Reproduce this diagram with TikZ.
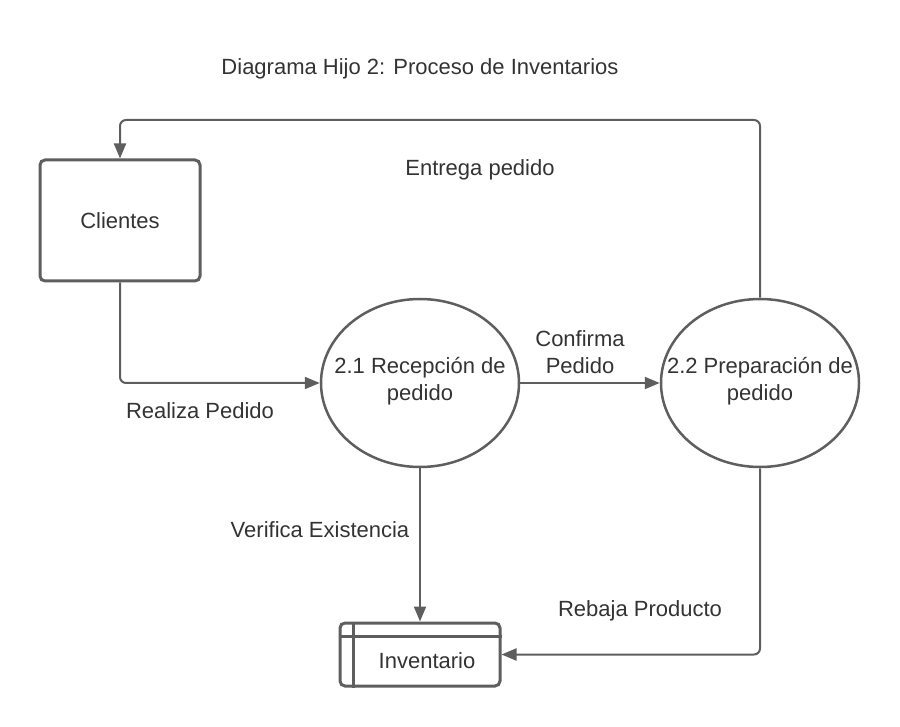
\documentclass[tikz,border=0pt]{standalone}
\usepackage{fontspec}
\setmainfont{Liberation Sans}
\usetikzlibrary{arrows.meta,shapes.geometric}
\definecolor{lc}{HTML}{5E5E5E}
\definecolor{tc}{HTML}{333333}
\begin{document}
\begin{tikzpicture}[x=1pt,y=-1pt,
  lbl/.style={text=tc,font=\fontsize{22}{27}\selectfont,align=center,inner sep=0},
  conn/.style={draw=lc,line width=2pt,rounded corners=6pt,-{Triangle[length=15pt,width=12pt]}},
  proc/.style={ellipse,draw=lc,line width=2.5pt,minimum width=198pt,minimum height=168pt,inner sep=0},
  entity/.style={draw=lc,line width=3pt,rounded corners=5pt,minimum width=160pt,minimum height=121pt,inner sep=0}
]
\useasboundingbox (0,0) rectangle (900,727);
\node[lbl] (title) at (420,69) {Diagrama Hijo 2: Proceso de Inventarios};
\node[entity,lbl] (cli) at (120,220.5) {Clientes};
\node[proc] (p1) at (420,383) {};
\node[proc] (p2) at (760,383) {};
\node[lbl] (p1t) at (420,381) {2.1 Recepción de\\pedido};
\node[lbl] (p2t) at (760,381) {2.2 Preparación de\\pedido};
\node[draw=lc,line width=3pt,rounded corners=5pt,minimum width=160pt,minimum height=63pt,inner sep=0] (inv) at (420,654.5) {};
\draw[lc,line width=2.5pt] ([xshift=15pt]inv.north west) -- ([xshift=15pt]inv.south west);
\draw[lc,line width=2.5pt] ([yshift=-15pt]inv.north west) -- ([yshift=-15pt]inv.north east);
\node[lbl] (invt) at (427,661) {Inventario};
\draw[conn] (cli.south) |- (p1.west);
\draw[conn] (p1.east) -- (p2.west);
\coordinate (c1) at (760,120);
\coordinate (c2) at (120,120);
\draw[conn] (p2.north) -- (c1) -- (c2) -- (cli.north);
\draw[conn] (p1.south) -- (inv.north);
\draw[conn] (p2.south) |- (inv.east);
\node[lbl] (l1) at (480,170) {Entrega pedido};
\node[lbl] (l2) at (200,411) {Realiza Pedido};
\node[lbl] (l3) at (580,352) {Confirma\\Pedido};
\node[lbl] (l4) at (320,530) {Verifica Existencia};
\node[lbl] (l5) at (640,611) {Rebaja Producto};
\end{tikzpicture}
\end{document}
